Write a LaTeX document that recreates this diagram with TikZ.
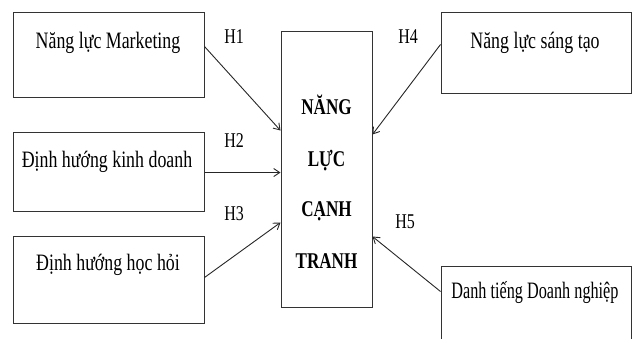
\documentclass[tikz,border=0pt]{standalone}
\usepackage{fontspec}
\setmainfont{Liberation Serif}
\newfontfamily\condserif[FakeStretch=0.76]{Liberation Serif}
\newfontfamily\tightserif[FakeStretch=0.69]{Liberation Serif}
\usetikzlibrary{arrows.meta,calc}
\begin{document}
\begin{tikzpicture}[x=1pt,y=-1pt,
  box/.style={draw=black!80,line width=1pt,inner sep=0pt,minimum width=#1},
  lbl/.style={anchor=base,inner sep=0pt,font=\condserif\fontsize{23.5}{26}\selectfont},
  hyp/.style={anchor=base,inner sep=0pt,font=\condserif\fontsize{21}{24}\selectfont},
  core/.style={anchor=base,inner sep=0pt,font=\condserif\fontsize{22.5}{25}\selectfont\bfseries},
  link/.style={draw=black!85,line width=0.9pt,-{Straight Barb[length=6pt,width=8pt]}}]
\useasboundingbox (0,0) rectangle (636,338);
\clip (0,0) rectangle (636,338);
% boxes
\node[box=191pt,minimum height=85pt] (mkt) at (108.5,54.5) {};
\node[box=191pt,minimum height=79pt] (kd) at (108.5,171.5) {};
\node[box=191pt,minimum height=87pt] (hh) at (108.5,279.5) {};
\node[box=190pt,minimum height=81pt] (st) at (536,52.5) {};
\node[box=190pt,minimum height=90pt] (dt) at (536,311) {};
\node[box=91pt,minimum height=276pt] (nl) at (326.5,169) {};
% box texts
\node[lbl] (tmkt) at (108,48) {Năng lực Marketing};
\node[lbl] (tkd) at (107,167) {Định hướng kinh doanh};
\node[lbl] (thh) at (108,270) {Định hướng học hỏi};
\node[lbl] (tst) at (535,48) {Năng lực sáng tạo};
\node[lbl,font=\tightserif\fontsize{23.5}{26}\selectfont] (tdt) at (535,298) {Danh tiếng Doanh nghiệp};
\node[core] (c1) at (326.5,114) {NĂNG};
\node[core] (c2) at (326.5,166) {LỰC};
\node[core] (c3) at (326.5,216) {CẠNH};
\node[core] (c4) at (326.5,268) {TRANH};
% hypothesis labels
\node[hyp] (h1) at (234,43) {H1};
\node[hyp] (h2) at (234,147) {H2};
\node[hyp] (h3) at (234,220) {H3};
\node[hyp] (h4) at (408,43) {H4};
\node[hyp] (h5) at (405,228) {H5};
% arrows
\draw[link] ($(mkt.north east)+(0,35)$) -- ($(nl.north west)+(0,100)$);
\draw[link] ($(kd.north east)+(0,41)$) -- ($(nl.north west)+(0,142)$);
\draw[link] ($(hh.north east)+(0,42)$) -- ($(nl.north west)+(0,192)$);
\draw[link] ($(st.north west)+(0,33)$) -- ($(nl.north east)+(0,104)$);
\draw[link] ($(dt.north west)+(0,26)$) -- ($(nl.north east)+(0,206)$);
\end{tikzpicture}
\end{document}
